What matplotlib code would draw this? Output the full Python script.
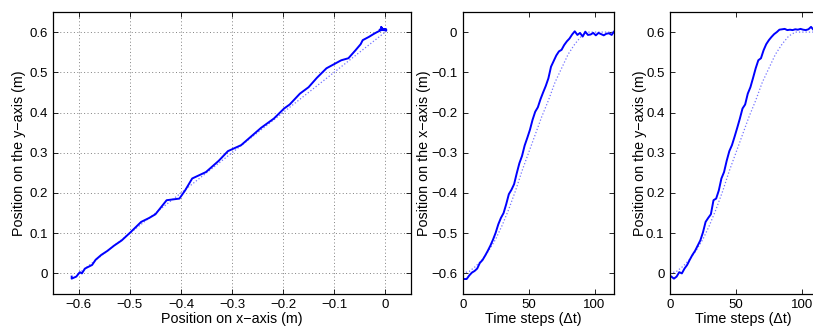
import matplotlib
matplotlib.use("Agg")
import matplotlib.pyplot as plt
from matplotlib.ticker import FuncFormatter

plt.rcParams['font.family'] = ['Liberation Sans', 'DejaVu Sans']
plt.rcParams['font.size'] = 9.5

# ================= DATA =================
time_steps = [1, 3, 5, 7, 9, 11, 13, 15, 17, 19, 21, 23, 25, 27, 29, 31, 33, 35, 37, 39,
              41, 43, 45, 47, 49, 51, 53, 55, 57, 59, 61, 63, 65, 67, 69, 71, 73, 75, 77, 79,
              81, 83, 85, 87, 89, 91, 93, 95, 97, 99, 101, 103, 105, 107, 109, 111, 113, 115]

pos_x = [-0.614, -0.614, -0.605, -0.598, -0.594, -0.588, -0.574, -0.567, -0.556, -0.544,
         -0.531, -0.516, -0.499, -0.478, -0.462, -0.450, -0.428, -0.403, -0.392, -0.378,
         -0.351, -0.326, -0.308, -0.282, -0.263, -0.243, -0.218, -0.198, -0.187, -0.167,
         -0.150, -0.134, -0.115, -0.086, -0.072, -0.058, -0.048, -0.044, -0.032, -0.023,
         -0.016, -0.006, 0.002, -0.007, -0.002, -0.011, 0.001, -0.007, -0.006, -0.002,
         -0.008, -0.002, -0.005, -0.008, -0.004, -0.003, -0.007, 0.002]

pos_y = [-0.008, -0.013, -0.008, 0.003, 0.000, 0.012, 0.021, 0.034, 0.046, 0.056,
         0.069, 0.082, 0.102, 0.128, 0.138, 0.147, 0.182, 0.186, 0.206, 0.236,
         0.252, 0.280, 0.304, 0.319, 0.340, 0.362, 0.385, 0.410, 0.420, 0.447,
         0.463, 0.486, 0.510, 0.530, 0.535, 0.555, 0.570, 0.580, 0.588, 0.595,
         0.600, 0.606, 0.607, 0.608, 0.605, 0.606, 0.605, 0.607, 0.606, 0.608,
         0.606, 0.605, 0.607, 0.613, 0.605, 0.607, 0.606, 0.604]

# reference trajectory: distance covered along each axis
ref_steps = [0, 5, 10, 15, 20, 25, 30, 35, 40, 45, 50, 55, 60, 65, 70, 75, 80, 85, 90, 95, 100, 115]
ref_progress = [0.0, 0.005, 0.018, 0.035, 0.058, 0.085, 0.12, 0.16, 0.205, 0.255, 0.30,
                0.345, 0.39, 0.43, 0.475, 0.51, 0.545, 0.57, 0.59, 0.60, 0.60, 0.60]
start_x, start_y = -0.6, 0.0

ref_x = [start_x + p for p in ref_progress]
ref_y = [start_y + p for p in ref_progress]

SOLID = dict(color=(0, 0, 1), lw=1.4)
DOTTED = dict(color=(0.45, 0.45, 1), lw=0.9, ls=':')
LABEL_SIZE = 10.3


def fmt(v, pos):
    s = f"{v:g}"
    if abs(v) < 1e-9:
        s = "0"
    return s.replace('-', '\u2212')


def style(ax):
    ax.tick_params(direction='in', length=3.5, width=0.6, top=True, right=True, pad=4)
    for sp in ax.spines.values():
        sp.set_linewidth(0.9)
    ax.xaxis.set_major_formatter(FuncFormatter(fmt))
    ax.yaxis.set_major_formatter(FuncFormatter(fmt))


fig = plt.figure(figsize=(8.13, 3.29), dpi=100)
bottom, height = 1 - 293.5 / 329, 281.5 / 329

# ---- y vs x path ----
ax1 = fig.add_axes([53.3 / 813, bottom, 357.4 / 813, height])
ax1.plot(ref_x, ref_y, **DOTTED)
ax1.plot(pos_x, pos_y, **SOLID)
ax1.set_xlim(-0.65, 0.05)
ax1.set_ylim(-0.05, 0.65)
ax1.set_xticks([-0.6, -0.5, -0.4, -0.3, -0.2, -0.1, 0])
ax1.set_yticks([0, 0.1, 0.2, 0.3, 0.4, 0.5, 0.6])
ax1.grid(True, color='0.5', ls=(0, (1, 2.5)), lw=0.7)
ax1.set_axisbelow(True)
style(ax1)
ax1.set_xlabel("Position on x\u2212axis (m)", fontsize=LABEL_SIZE)
ax1.set_ylabel("Position on the y\u2212axis (m)", fontsize=LABEL_SIZE)
ax1.xaxis.set_label_coords(0.5, -0.066)
ax1.yaxis.set_label_coords(-0.077, 0.5)

# ---- x over time ----
ax2 = fig.add_axes([462.7 / 813, bottom, 151.6 / 813, height])
ax2.plot(ref_steps, ref_x, **DOTTED)
ax2.plot(time_steps, pos_x, **SOLID)
ax2.set_xlim(0, 115)
ax2.set_ylim(-0.65, 0.05)
ax2.set_xticks([0, 50, 100])
ax2.set_yticks([-0.6, -0.5, -0.4, -0.3, -0.2, -0.1, 0])
style(ax2)
ax2.set_xlabel("Time steps (\u0394t)", fontsize=LABEL_SIZE)
ax2.set_ylabel("Position on the x\u2212axis (m)", fontsize=LABEL_SIZE)
ax2.xaxis.set_label_coords(0.465, -0.066)
ax2.yaxis.set_label_coords(-0.212, 0.5)

# ---- y over time (cut at figure edge as in the original) ----
ax3 = fig.add_axes([670 / 813, bottom, 151.6 / 813, height])
ax3.plot(ref_steps, ref_y, **DOTTED)
ax3.plot(time_steps, pos_y, **SOLID)
ax3.set_xlim(0, 115)
ax3.set_ylim(-0.05, 0.65)
ax3.set_xticks([0, 50, 100])
ax3.set_yticks([0, 0.1, 0.2, 0.3, 0.4, 0.5, 0.6])
style(ax3)
ax3.set_xlabel("Time steps (\u0394t)", fontsize=LABEL_SIZE)
ax3.set_ylabel("Position on the y\u2212axis (m)", fontsize=LABEL_SIZE)
ax3.xaxis.set_label_coords(0.485, -0.066)
ax3.yaxis.set_label_coords(-0.152, 0.5)

fig.savefig("out.png", dpi=100)
